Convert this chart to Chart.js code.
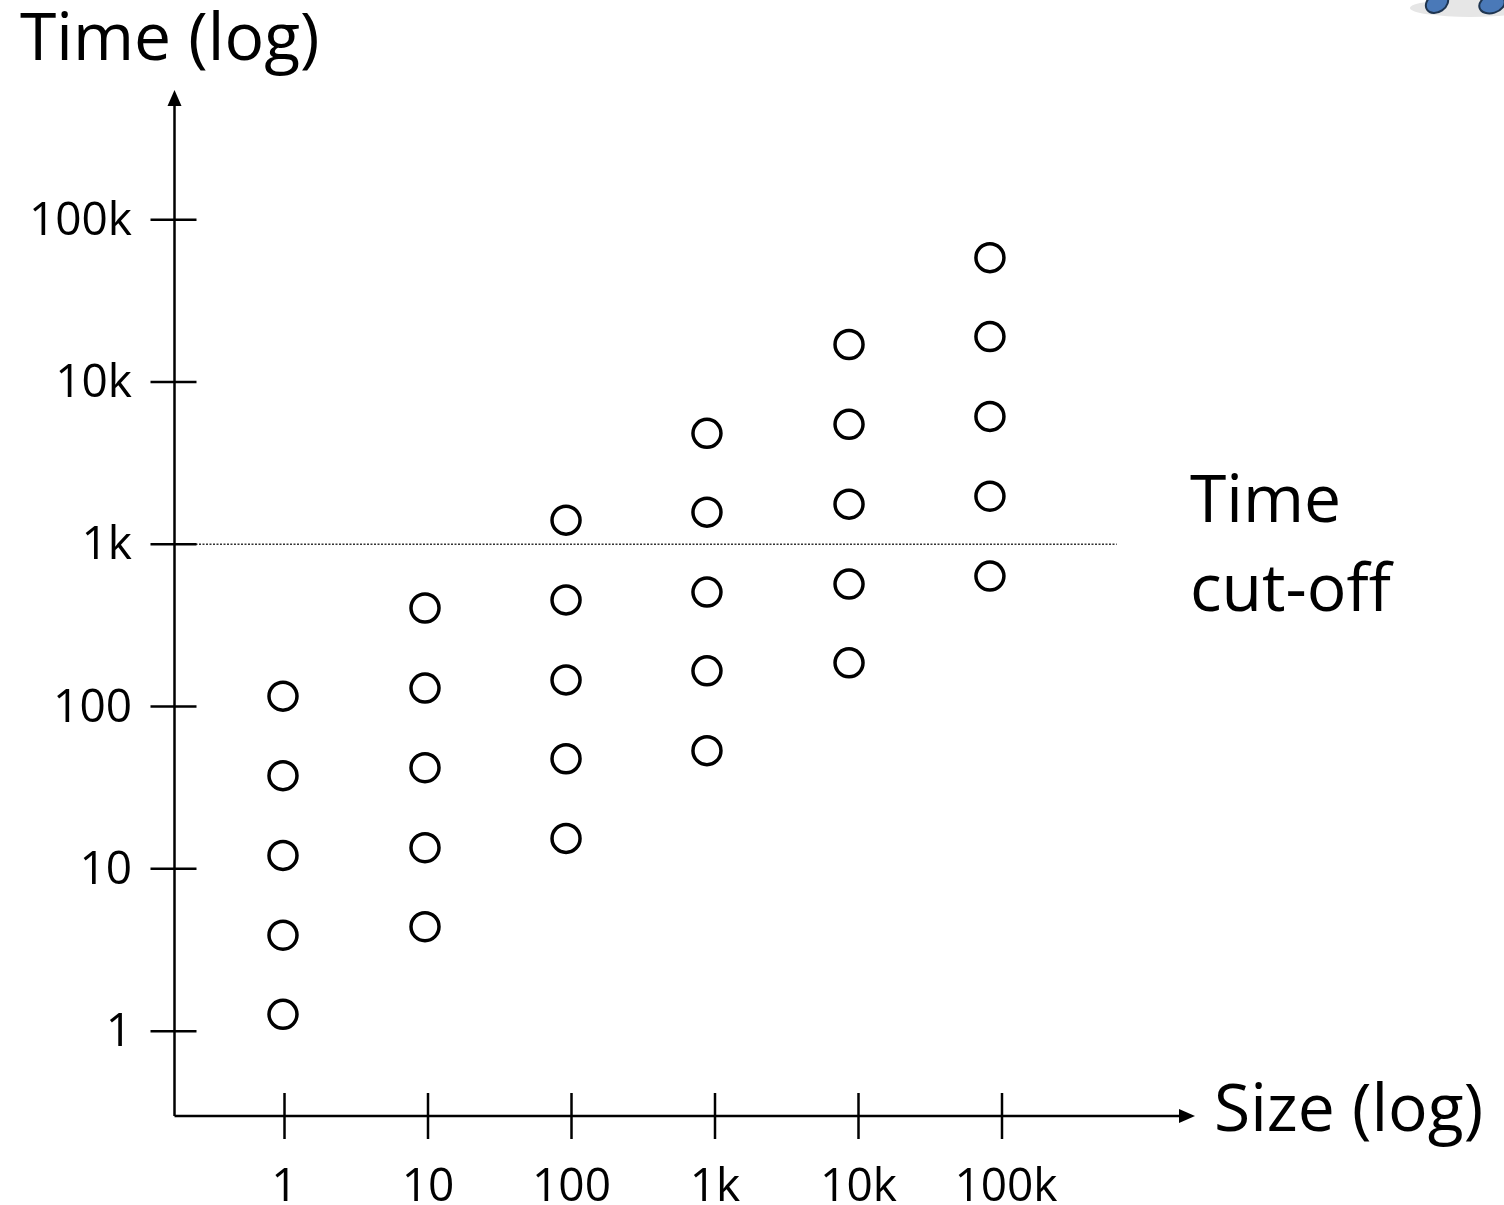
<!DOCTYPE html>
<html>
<head>
<meta charset="utf-8">
<script src="https://cdn.jsdelivr.net/npm/chart.js@4.4.1/dist/chart.umd.min.js"></script>
<style>
  html, body { margin: 0; padding: 0; background: #fff; }
  #wrap { width: 1504px; height: 1205px; position: relative; }
</style>
</head>
<body>
<div id="wrap"><canvas id="c" width="1504" height="1205"></canvas></div>
<script>
// tick labels on both axes
const tickValues = [1, 10, 100, 1000, 10000, 100000];
const tickLabels = ["1", "10", "100", "1k", "10k", "100k"];

// x position of each column of runs (sizes)
const sizes = [0.976, 9.53, 91.6, 879, 8590, 82400];
// run times for each column, bottom to top
const times1 = [1.27, 3.9, 12.1, 37.5, 116];
const times10 = [4.4, 13.5, 42, 130, 405];
const times100 = [15.4, 47.7, 146, 454, 1409];
const times1k = [53.5, 166, 508, 1578, 4830];
const times10k = [186, 569, 1767, 5486, 17030];
const times100k = [637, 1978, 6140, 19060, 58400];
const allTimes = [times1, times10, times100, times1k, times10k, times100k];

const cutoff = 1000;
const cutoffEnd = 630000;

const points = [];
allTimes.forEach((col, i) => {
    col.forEach((t) => points.push({ x: sizes[i], y: t }));
});

const FONT = '"Open Sans", "Liberation Sans", sans-serif';

// axis lines, arrows, tick marks and labels
const axesPlugin = {
    id: "axesPlugin",
    afterDatasetsDraw(chart) {
        const ctx = chart.ctx;
        const a = chart.chartArea;
        const xs = chart.scales.x;
        const ys = chart.scales.y;
        ctx.save();
        ctx.strokeStyle = "#000";
        ctx.fillStyle = "#000";
        ctx.lineWidth = 2.5;

        // y axis
        ctx.beginPath();
        ctx.moveTo(a.left, a.bottom);
        ctx.lineTo(a.left, a.top + 12);
        ctx.stroke();
        ctx.beginPath();
        ctx.moveTo(a.left, a.top);
        ctx.lineTo(a.left - 7, a.top + 16);
        ctx.lineTo(a.left + 7, a.top + 16);
        ctx.closePath();
        ctx.fill();

        // x axis
        ctx.beginPath();
        ctx.moveTo(a.left, a.bottom);
        ctx.lineTo(a.right - 12, a.bottom);
        ctx.stroke();
        ctx.beginPath();
        ctx.moveTo(a.right, a.bottom);
        ctx.lineTo(a.right - 16, a.bottom - 7);
        ctx.lineTo(a.right - 16, a.bottom + 7);
        ctx.closePath();
        ctx.fill();

        ctx.font = "46px " + FONT;
        tickValues.forEach((v, i) => {
            const py = ys.getPixelForValue(v);
            ctx.beginPath();
            ctx.moveTo(a.left - 24, py);
            ctx.lineTo(a.left + 22, py);
            ctx.stroke();
            ctx.textAlign = "right";
            ctx.textBaseline = "middle";
            ctx.fillText(tickLabels[i], 132, py + 2);

            const px = xs.getPixelForValue(v);
            ctx.beginPath();
            ctx.moveTo(px, a.bottom - 23);
            ctx.lineTo(px, a.bottom + 23);
            ctx.stroke();
            ctx.textAlign = "center";
            ctx.textBaseline = "alphabetic";
            ctx.fillText(tickLabels[i], px + (i === 5 ? 4 : 0), 1201);
        });

        ctx.font = "66px " + FONT;
        ctx.textAlign = "left";
        ctx.textBaseline = "alphabetic";
        ctx.fillText("Time (log)", 20, 60);
        ctx.fillText("Size (log)", 1214, 1131);
        ctx.fillText("Time", 1190, 522);
        ctx.fillText("cut-off", 1190, 611);

        // bit of clip art peeking in at the top right
        ctx.fillStyle = "#e6e6e6";
        ctx.beginPath();
        ctx.ellipse(1470, 8, 60, 9, 0, 0, Math.PI * 2);
        ctx.fill();
        ctx.fillStyle = "#4a79b8";
        ctx.strokeStyle = "#1f3550";
        ctx.lineWidth = 2;
        ctx.beginPath();
        ctx.ellipse(1437, 3, 12, 9, -0.6, 0, Math.PI * 2);
        ctx.fill();
        ctx.stroke();
        ctx.beginPath();
        ctx.ellipse(1492, 4, 13, 9, -0.3, 0, Math.PI * 2);
        ctx.fill();
        ctx.stroke();
        ctx.restore();
    }
};

new Chart(document.getElementById("c"), {
    type: "scatter",
    data: {
        datasets: [
            {
                type: "line",
                data: [{ x: Math.pow(10, -0.7666), y: cutoff }, { x: cutoffEnd, y: cutoff }],
                borderColor: "#333",
                borderWidth: 1.5,
                borderDash: [2, 1.5],
                pointRadius: 0,
                fill: false,
                order: 2
            },
            {
                data: points,
                pointRadius: 14,
                pointHoverRadius: 14,
                borderWidth: 3.5,
                borderColor: "#000",
                backgroundColor: "#fff",
                order: 1
            }
        ]
    },
    options: {
        responsive: false,
        animation: false,
        events: [],
        layout: { padding: { left: 174.5, right: 309, top: 90, bottom: 89 } },
        plugins: { legend: { display: false }, tooltip: { enabled: false } },
        scales: {
            x: {
                type: "logarithmic",
                display: false,
                min: Math.pow(10, -0.7666),
                max: Math.pow(10, 6.345)
            },
            y: {
                type: "logarithmic",
                display: false,
                min: Math.pow(10, -0.5105),
                max: Math.pow(10, 5.7995)
            }
        }
    },
    plugins: [axesPlugin]
});
</script>
</body>
</html>
